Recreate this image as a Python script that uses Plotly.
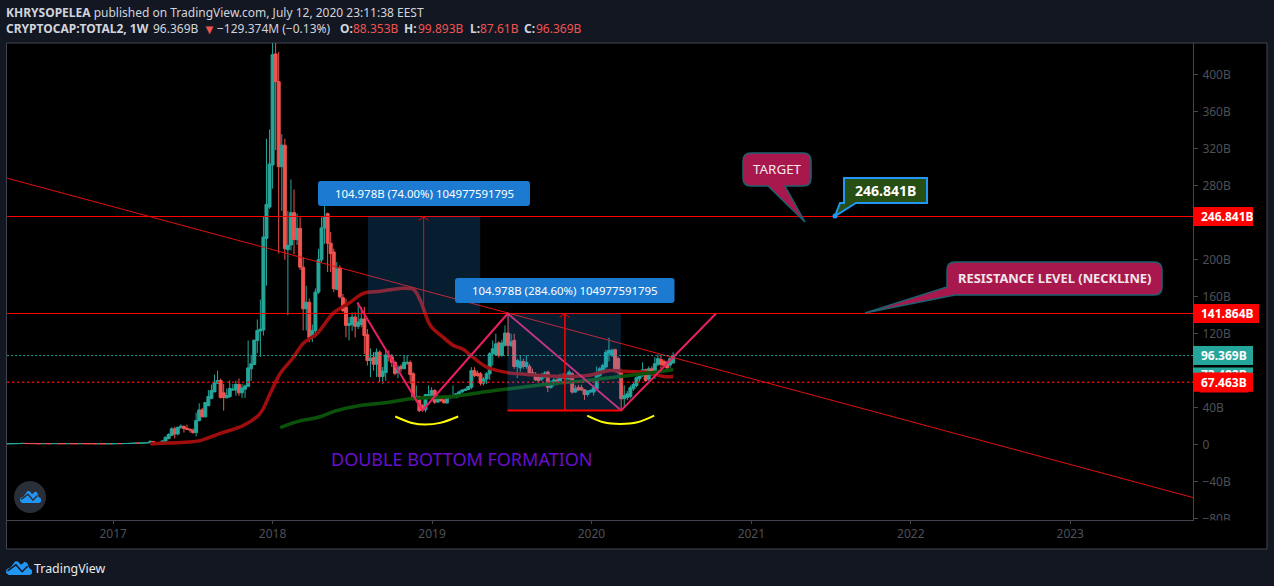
import pandas as pd
import plotly.graph_objects as go

# ---------- axis labels ----------
year_ticks = ["2017-01-01", "2018-01-01", "2019-01-01", "2020-01-01", "2021-01-01", "2022-01-01", "2023-01-01"]
year_labels = ["2017", "2018", "2019", "2020", "2021", "2022", "2023"]
price_ticks = [400, 360, 320, 280, 240, 200, 160, 120, 80, 40, 0, -40, -80]
# 240B and 80B sit fully behind the price tags in the reference
price_labels = ["400B", "360B", "320B", "280B", "", "200B", "160B", "120B", "", "40B", "0", "\u221240B", "\u221280B"]

# ---------- weekly candles, in billions, from 2016-05-02 ----------
first_week = pd.Timestamp("2016-05-02")
open_ = [
 0.9,0.9,1.0,1.0,1.1,1.1,1.3,1.2,1.1,1.1, 1.1,1.0,1.0,1.1,1.0,1.0,1.1,1.1,1.0,1.0,
 1.0,1.1,1.0,1.0,1.0,1.1,1.0,1.0,1.0,1.0, 0.9,1.0,0.9,0.9,1.0,0.9,1.0,1.1,1.0,1.1,
 1.2,1.3,1.4,1.6,1.5,1.7,1.9,
 2.0,3.4,1.8,2.1,1.6,3.6,6.5,10,17,11.5,18.7,19.5,17.5,16.5,15.5,13,26,37.5,30,42,50,57,66.5,69.3,56,
 50.5,52,59,59,65,56,60,63,82,86.6,112.6,122.8,124,223,257,302.5,422.8,392.8,300.7,324,211,216,251,222,
 234,192,147,154,116,123.5,165,200,234.5,250,218,208.5,168,191,159,148.8,129,130,138,128,130,136,119,91,
 94,87,100,73.7,78,96.5,95,89,78,84.5,82,88,88.9,76.6,50.6,52,42,37.6,52,53,58.5,46,50,48.4,45,50.6,
 51,51,53,57,58.5,59.6,62,80,77.3,76.6,66.5,71,76.6,98.3,97.6,110,96.5,107.4,120.7,107.4,112.8,84.6,83,90,
 84.6,84.6,78,76,73.8,70.9,73,78.5,62,66,70,68.7,74.9,71,71,76.7,56.8,62,61.5,59.3,54.3,57,56.8,60.4,
 74.9,80,84,98.3,96.5,102.7,93,80,49.6,51,52,60.4,64,71.2,74.9,81,71,82,74.9,86.8,92,90,89,86,88.353]
close = [
 0.9,1.0,1.0,1.1,1.1,1.3,1.2,1.1,1.1,1.1, 1.0,1.0,1.1,1.0,1.0,1.1,1.1,1.0,1.0,1.0,
 1.1,1.0,1.0,1.0,1.1,1.0,1.0,1.0,1.0,0.9, 1.0,0.9,0.9,1.0,0.9,1.0,1.1,1.0,1.1,1.2,
 1.3,1.4,1.6,1.5,1.7,1.9,2.0,
 3.5,1.8,2.1,2.0,4.0,8.0,11,17,11.5,18.7,19.8,17.5,16.5,15.8,13,26,37.5,30,45.5,52,58.5,66.7,69.3,51,51,
 53,60.6,60,65,56,61.3,63.5,83,87.4,113,123.5,125,224.7,260,303.6,422,392.8,300.7,324,212,215.7,251,222,234,
 192,147,154,116,123.5,165,200,234.5,246.5,218,206.6,168.7,190,160,145,129,130.8,138,128,132.6,136,118,91,93.6,
 87,100,73.7,79.5,97,95.4,89,77,83,82,89,89,75.8,50.6,52,36.8,38,54,54,58.5,45.9,52,47.7,45.5,52,52.7,
 53,55,57,59,60,62.8,80,74.8,74.8,66.5,71,76.6,98.3,103.7,109,96.5,110,120.7,107.4,111,84.6,91,90,84.6,
 89,76.7,76,70,69.4,75,77.4,62,67.6,70,66,74.9,72,75,78.5,56.8,60.4,59,59.3,54.3,57.9,58.6,61.5,76.7,
 82,85.7,100,102,102,81,78,49.6,53,55,61.5,65,72.3,76.7,81,69.4,82,76.7,87.5,93,86.8,85.7,83,93,96.369]
high = [
 1.0,1.1,1.1,1.2,1.2,1.4,1.4,1.3,1.2,1.2, 1.2,1.1,1.2,1.2,1.1,1.2,1.2,1.2,1.1,1.1,
 1.2,1.2,1.1,1.1,1.2,1.2,1.1,1.1,1.1,1.1, 1.1,1.1,1.0,1.1,1.1,1.1,1.2,1.2,1.2,1.3,
 1.4,1.5,1.7,1.8,1.8,2.0,2.2,
 4.5,3.6,2.4,2.5,4.3,8.6,12.2,18.8,19.4,19.4,21.8,20.9,21.6,17.5,17.6,34.6,44.7,39.6,45.8,59,65,75.8,80,71.5,65.7,
 60.6,69.3,65.7,69.3,71.5,65.7,65,112.6,97,113.5,135.4,157,246.5,331,341,450,450,425,336,331,253,287,276,250,
 246,203,172,158,130,169,212,246,262.6,251,230,212,197.6,194,163,158,138,143,143,154,149,149,125,104,
 100,104,102,84,104,102,98,91,86,87,96.5,96.5,91,78.4,64,53,44,55,64,62,60,54,52,49,53,54,
 64,56,58.5,60,61,63.5,83.8,83.8,80,78.4,73,78.4,100,112.7,120,112,113.5,129,141.7,120,120,93,96.5,93,
 96.5,87,82,78.5,75,77.4,79.6,80,69.4,73.8,73.8,76.7,77.4,76.7,81,78.5,64,64.7,64.7,60,59,60,64,84.6,
 84,87.5,102.7,115.7,104,103.7,95,82,64,58,64,67.6,73.8,78.5,89,82,84.6,84.6,94.7,97.6,96.5,92,91,95,99.893]
low = [
 0.8,0.8,0.9,0.9,1.0,1.0,1.1,1.0,1.0,1.0, 0.9,0.9,0.9,0.9,0.9,0.9,1.0,0.9,0.9,0.9,
 0.9,0.9,0.9,0.9,0.9,0.9,0.9,0.9,0.9,0.8, 0.8,0.8,0.8,0.8,0.8,0.8,0.9,0.9,0.9,1.0,
 1.1,1.2,1.3,1.4,1.4,1.6,1.8,
 1.6,1.6,1.5,1.7,1.3,3.4,5.8,9.5,6.8,10,17,13,15.8,12.9,11.8,9,25,29.5,29.5,42,49,57,65.7,49.8,36.8,
 50.5,50.5,58,53,52.7,50.5,50.5,62.8,69,86,99,95,118,172,255,277,318.8,206.8,253,200,140,210,206,216,
 189,123.5,123.5,111,111,116,163,197,217,186.8,186.8,165,167,158,143,116,112.7,123,116,125,127,98,85.6,73,
 80,73,67.6,65.8,69,90,84,75,72,78.4,82,86,65.8,47.7,46,35,36.5,35,49.5,51,44,45,46,44,44.5,50,
 50,50,52,56,58,59,60,73,73.5,64,64,65.8,70,85.6,96,94,95,106,96.5,105.6,82,72,79,82,
 82,75,75,68.7,67.6,68.7,72,56.8,60.4,63,64,66,71,70,70,55,56,58,58,48.5,52,56,53,59,
 73,78,82,90,95,78,76,38,40,48,50,58,62,68,73,67.6,69,74,71,85,82,84,82,83,87.61]

# ---------- overlays (x in weeks after first_week, y in billions) ----------
red_ma_week = [47,51.2,56.8,63.3,69.9,77.4,82.9,86.2,89.5,93.8,97,101.6,106.8,112.4,116.7,122.3,128.8,133,135.3,138.6,142.8,146.1,149.4,152.6,157.2,163.7,170.3,181.1,189.9,197.4,203,209.6,214.8,218]
red_ma_val = [1,1.5,2.2,4.3,12.2,20.6,33.6,55.3,77,94.3,109.5,120.3,142,154,163.7,165.9,169,168,156,129,116,107.3,103,94.3,83.5,78,75.9,73.7,74.8,80.2,79,78,73.7,73.7]
green_ma_week = [89.5,95.1,101.6,108.1,115.7,124.5,133,146.1,157.2,168,178.8,189.9,200.7,211.5,218]
green_ma_val = [18.4,24.9,29.3,36.9,42.3,45.5,49.9,52,57.5,61.8,66.1,69.4,73.7,78,81.3]
zigzag_week = [114.7,136,163.9,201,232]
zigzag_val = [153.8,36.9,141.864,36.9,141.864]
arc1_week = [127.1,133,136.9,141.8,147.7]
arc1_val = [30.4,23,21.7,23.5,30.4]
arc2_week = [189.9,195.2,200.7,206.3,211.8]
arc2_val = [31.4,24.2,22.4,24.2,31.4]
trend_week = [0.2,388.2]
trend_val = [288.3,-57.5]
levels = [246.841, 141.864, 96.369, 67.463, 36.886]
axis_week = [0.2,388.2]
long1_week = [118.2,136.4,154.9]
long2_week = [163.8,182.6,200.9]

W, H = 1274, 586
L, R, T, B = 7, 1193, 43, 520
BG = "#131722"; FRAME = "#434651"; UP = "#26a69a"; DOWN = "#ef5350"
FONT = "Noto Sans"

def week_dates(weeks):
    return [first_week + pd.to_timedelta(w * 7, unit="D") for w in weeks]
def X(px): return (px - L) / (R - L)
def Y(py): return (B - py) / (B - T)

def rrect(x0, y0, x1, y1, r):
    return (f"M {X(x0+r)} {Y(y0)} L {X(x1-r)} {Y(y0)} Q {X(x1)} {Y(y0)} {X(x1)} {Y(y0+r)} "
            f"L {X(x1)} {Y(y1-r)} Q {X(x1)} {Y(y1)} {X(x1-r)} {Y(y1)} "
            f"L {X(x0+r)} {Y(y1)} Q {X(x0)} {Y(y1)} {X(x0)} {Y(y1-r)} "
            f"L {X(x0)} {Y(y0+r)} Q {X(x0)} {Y(y0)} {X(x0+r)} {Y(y0)} Z")

def pshape(path, fill=None, line=None, width=0, layer="above"):
    return dict(type="path", xref="paper", yref="paper", path=path, fillcolor=fill or "rgba(0,0,0,0)",
                line=dict(color=line or "rgba(0,0,0,0)", width=width), layer=layer)

def poly(pts, close_=True):
    s = "M " + " L ".join(f"{X(a)} {Y(b)}" for a, b in pts)
    return s + (" Z" if close_ else "")

def cloud(x0, y0, w, h):
    pts = [(0.10,1),(0.0,0.85),(0.02,0.62),(0.17,0.5),(0.36,0.08),(0.46,0.1),(0.58,0.32),(0.72,0.12),(0.82,0.2),(0.88,0.52),(1,0.68),(1,0.9),(0.92,1)]
    zig = [(0.06,0.72),(0.38,0.32),(0.62,0.78),(0.83,0.42)]
    tp = lambda p: [(x0 + a * w, y0 + b * h) for a, b in p]
    return pshape(poly(tp(pts)), fill="#2196f3"), tp(zig)

fig = go.Figure()
dates = [first_week + pd.Timedelta(days=7 * i) for i in range(len(close))]
fig.add_trace(go.Candlestick(x=dates, open=open_, high=high, low=low, close=close,
    increasing=dict(line=dict(color=UP, width=1), fillcolor=UP),
    decreasing=dict(line=dict(color=DOWN, width=1), fillcolor=DOWN),
    whiskerwidth=0, hoverinfo="skip", showlegend=False))

def line(weeks, vals, color, width, dash="solid", shape="linear"):
    fig.add_trace(go.Scatter(x=week_dates(weeks), y=vals, mode="lines", hoverinfo="skip", showlegend=False,
                             line=dict(color=color, width=width, dash=dash, shape=shape)))

line(red_ma_week, red_ma_val, "#a00d0d", 3.5, shape="spline")
line(green_ma_week, green_ma_val, "#0a520a", 3.5, shape="spline")
line(trend_week, trend_val, "#e01010", 1)
line(axis_week, [levels[0]] * 2, "#ff0000", 1)
line(axis_week, [levels[1]] * 2, "#ff0000", 1)
line(axis_week, [levels[2]] * 2, UP, 1, dash="2px,2px")
line(axis_week, [levels[3]] * 2, "#ff0000", 1.5, dash="2px,3px")
line(zigzag_week, zigzag_val, "#e91e63", 2)
line(arc1_week, arc1_val, "#ffff00", 2, shape="spline")
line(arc2_week, arc2_val, "#ffff00", 2, shape="spline")

shapes = [dict(type="rect", xref="paper", yref="paper", x0=X(6.5), x1=X(1267), y0=Y(549), y1=Y(43),
               fillcolor="#000000", line=dict(color=FRAME, width=1), layer="below")]

RECT = "rgba(33,150,243,0.2)"
for wk, lo, hi, lw in [(long1_week, levels[1], levels[0], 1), (long2_week, levels[4], levels[1], 1.5)]:
    d = week_dates(wk)
    shapes.append(dict(type="rect", xref="x", yref="y", x0=d[0], x1=d[2], y0=lo, y1=hi,
                       fillcolor=RECT, line=dict(width=0), layer="above"))
    shapes.append(dict(type="line", xref="x", yref="y", x0=d[1], x1=d[1], y0=lo, y1=hi,
                       line=dict(color="#ff0000", width=lw), layer="above"))
d2 = week_dates(long2_week)
shapes.append(dict(type="line", xref="x", yref="y", x0=d2[0], x1=d2[2], y0=levels[4], y1=levels[4],
                   line=dict(color="#ff0000", width=2), layer="above"))
for cx, cy in [(423.5, 216.5), (564.5, 313.5)]:
    shapes.append(pshape(poly([(cx - 5, cy + 4), (cx, cy), (cx + 5, cy + 4)], False), line="#ff0000", width=1))

# info labels and callouts
BLUE = "#1c7bd1"
shapes.append(pshape(rrect(318, 181, 530, 206, 3), fill=BLUE))
shapes.append(pshape(rrect(455, 278, 674.5, 303, 3), fill=BLUE))
CRIM = "#a8184c"; EDGE = "#1f6070"
shapes.append(pshape(
    f"M {X(751)} {Y(153)} L {X(803)} {Y(153)} Q {X(811)} {Y(153)} {X(811)} {Y(161)} L {X(811)} {Y(178)} "
    f"Q {X(811)} {Y(186)} {X(803)} {Y(186)} L {X(785)} {Y(186)} L {X(805)} {Y(222)} L {X(768)} {Y(186)} "
    f"L {X(751)} {Y(186)} Q {X(743)} {Y(186)} {X(743)} {Y(178)} L {X(743)} {Y(161)} Q {X(743)} {Y(153)} {X(751)} {Y(153)} Z",
    fill=CRIM, line=EDGE, width=1.5))
shapes.append(pshape(
    f"M {X(955)} {Y(262)} L {X(1154)} {Y(262)} Q {X(1162)} {Y(262)} {X(1162)} {Y(270)} L {X(1162)} {Y(287)} "
    f"Q {X(1162)} {Y(295)} {X(1154)} {Y(295)} L {X(955)} {Y(295)} L {X(865)} {Y(313)} L {X(947)} {Y(287)} "
    f"L {X(947)} {Y(270)} Q {X(947)} {Y(262)} {X(955)} {Y(262)} Z",
    fill=CRIM, line=EDGE, width=1.5))
shapes.append(pshape(
    f"M {X(844)} {Y(178)} L {X(927)} {Y(178)} L {X(927)} {Y(203)} L {X(856)} {Y(203)} L {X(835)} {Y(216)} "
    f"L {X(840)} {Y(203)} L {X(844)} {Y(203)} Z", fill="#274e13", line="#2196f3", width=2))
shapes.append(dict(type="circle", xref="paper", yref="paper", x0=X(832.5), x1=X(837.5), y0=Y(218.5), y1=Y(213.5),
                   fillcolor="#2196f3", line=dict(width=0), layer="above"))

# price tags on the scale
def tag(value, color, right):
    shapes.append(dict(type="rect", xref="paper", yref="y", ysizemode="pixel", yanchor=value,
                       x0=1.0, x1=X(right), y0=-9.5, y1=9.5, fillcolor=color, line=dict(width=0), layer="above"))

# clipped bottom of the lowest scale label
shapes.append(dict(type="rect", xref="paper", yref="paper", x0=X(1194), x1=X(1266), y0=Y(525), y1=Y(520.5),
                   fillcolor="#000000", line=dict(width=0), layer="above"))
tag(levels[0], "#ff0000", 1253)
tag(levels[1], "#ff0000", 1259)
tag(levels[2], UP, 1253)
tag(73.2, UP, 1253)
tag(levels[3], "#ff0000", 1253)

# logos
shapes.append(dict(type="circle", xref="paper", yref="paper", x0=X(14), x1=X(46), y0=Y(513), y1=Y(481),
                   fillcolor="#2a2e39", line=dict(width=0), layer="above"))
for box, zc in [((20, 490, 21, 13), "#2a2e39"), ((6, 560, 26, 15), BG)]:
    s, z = cloud(*box)
    shapes.append(s)
    shapes.append(pshape(poly(z, False), line=zc, width=1.5))

def text(px, py, s, size=12, color="#d1d4dc", anchor="left"):
    return dict(xref="paper", yref="paper", x=X(px - 2 if anchor == "left" else px), y=Y(py), text=s, showarrow=False,
                xanchor=anchor, yanchor="middle", font=dict(family=FONT, size=size, color=color))

def price_text(value, s, color="#ffffff", bg=None):
    a = dict(xref="paper", yref="y", x=X(1199), y=value, text=f"<b>{s}</b>", showarrow=False, xanchor="left",
             yanchor="middle", font=dict(family=FONT, size=12, color=color))
    if bg:
        a.update(bgcolor=bg, borderpad=1)
    return a

RED_T = "#ef5350"
annotations = [
    text(6, 12, "<b>KHRYSOPELEA</b> published on TradingView.com, July 12, 2020 23:11:38 EEST"),
    text(6, 29, "<b>CRYPTOCAP:TOTAL2, 1W</b>"),
    text(153, 29, "96.369B"),
    text(203, 29, "\u25bc", size=13, color=RED_T),
    text(217, 29, "\u2212129.374M (\u22120.13%)"),
    text(340, 29, "<b>O:</b>"), text(353, 29, "88.353B", color=RED_T),
    text(404, 29, "<b>H:</b>"), text(418, 29, "99.893B", color=RED_T),
    text(470, 29, "<b>L:</b>"), text(480, 29, "87.61B", color=RED_T),
    text(524, 29, "<b>C:</b>"), text(536, 29, "96.369B", color=RED_T),
    text(424, 193.5, "104.978B (74.00%) 104977591795", size=11.4, color="#ffffff", anchor="center"),
    text(564.5, 290.5, "104.978B (284.60%) 104977591795", size=11.4, color="#ffffff", anchor="center"),
    text(777, 169, "TARGET", size=13.4, color="#f2e6ea", anchor="center"),
    text(1054.5, 278, "<b>RESISTANCE LEVEL (NECKLINE)</b>", size=12.9, color="#f2e6ea", anchor="center"),
    text(885.5, 190.5, "<b>246.841B</b>", size=14, color="#ffffff", anchor="center"),
    text(461, 459, "DOUBLE BOTTOM FORMATION", size=18, color="#6a0fd0", anchor="center"),
    text(34, 568, "TradingView", size=12.4, color="#e8e8ea"),
    price_text(levels[0], "246.841B"),
    price_text(levels[1], "141.864B"),
    price_text(levels[2], "96.369B"),
    price_text(75.5, "73.482B"),
    price_text(levels[3], "67.463B", bg="#ff0000"),
]

fig.update_layout(
    width=W, height=H, autosize=False,
    margin=dict(l=L, r=W - R, t=T, b=H - B, pad=0),
    paper_bgcolor=BG, plot_bgcolor="#000000", showlegend=False, boxgap=0.02, boxgroupgap=0.02,
    shapes=shapes, annotations=annotations, hovermode=False,
    xaxis=dict(type="date", range=["2016-05-03", "2023-10-09"], rangeslider=dict(visible=False),
               tickmode="array", tickvals=year_ticks, ticktext=year_labels, showgrid=False, zeroline=False,
               showline=True, linecolor=FRAME, linewidth=1, ticks="outside", ticklen=3, tickcolor=FRAME,
               tickfont=dict(family=FONT, size=12, color="#4d5058")),
    yaxis=dict(range=[-81.62, 434.61], side="right", tickmode="array", tickvals=price_ticks, ticktext=price_labels,
               showgrid=False, zeroline=False, showline=True, linecolor=FRAME, linewidth=1, ticks="outside",
               ticklen=4, tickcolor=FRAME, ticklabelstandoff=2, tickfont=dict(family=FONT, size=12, color="#4d5058")),
)
fig.write_html("out.html", config=dict(displayModeBar=False),
               post_script="document.body.style.margin='0';document.body.style.background='#131722';")
